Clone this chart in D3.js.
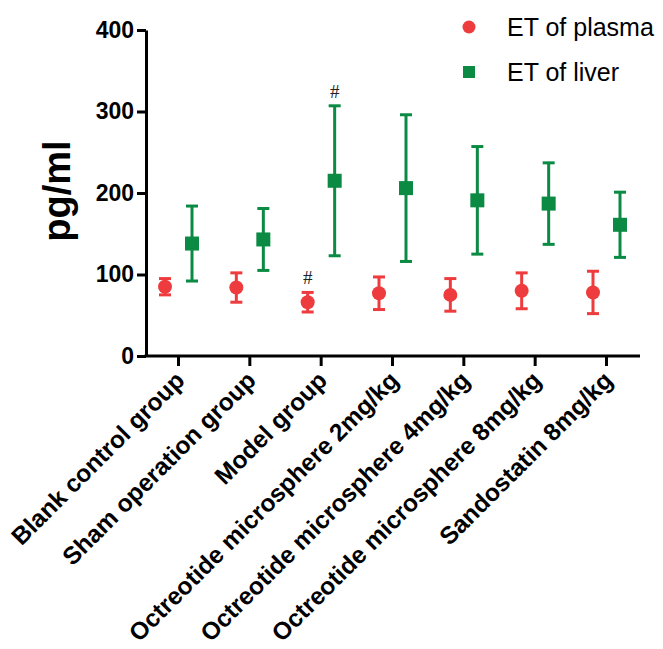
<!DOCTYPE html>
<html>
<head>
<meta charset="utf-8">
<script src="https://cdn.jsdelivr.net/npm/d3@7"></script>
<style>
  body { margin: 0; background: #fff; }
  svg { display: block; }
</style>
</head>
<body>
<div id="chart"></div>
<script>
// Data
var groups          =   [
    'Blank control group', 'Sham operation group', 'Model group',
    'Octreotide microsphere 2mg/kg', 'Octreotide microsphere 4mg/kg',
    'Octreotide microsphere 8mg/kg', 'Sandostatin 8mg/kg'
];
var plasma_mean     =   [85, 84, 66, 77, 75, 80, 78];
var plasma_err      =   [10, 18, 12, 20, 20, 22, 26];
var liver_mean      =   [138, 143, 215, 206, 191, 187, 161];
var liver_err       =   [46, 38, 92, 90, 66, 50, 40];
var plasma_sig      =   ['', '', '#', '', '', '', ''];
var liver_sig       =   ['', '', '#', '', '', '', ''];
var y_ticks         =   [0, 100, 200, 300, 400];

var chart_width     =   663;
var chart_height    =   649;
var red             =   '#ee3b3d';
var green           =   '#0a8a42';
var offset          =   13;
var cap             =   6;

// Scales
var x_scale         =   d3.scalePoint()
    .domain( groups )
    .range( [178, 606] );

var y_scale         =   d3.scaleLinear()
    .domain( [0, 400] )
    .range( [356, 30] );

var svg             =   d3.select('#chart')
    .append('svg')
    .attr('width', chart_width)
    .attr('height', chart_height)
    .style('font-family', 'Liberation Sans, Arial, sans-serif');

// Y axis
var y_axis = svg.append('g')
    .attr('transform', 'translate(146,0)')
    .call( d3.axisLeft(y_scale).tickValues(y_ticks).tickSize(9).tickSizeOuter(0).tickPadding(3) );
y_axis.select('.domain').attr('stroke-width', 3).attr('stroke', '#000');
y_axis.selectAll('.tick line').attr('stroke-width', 3);
y_axis.selectAll('.tick text')
    .style('font-size', '23px')
    .style('font-weight', 'bold')
    .attr('fill', '#000');

svg.append('text')
    .attr('transform', 'translate(70,191) rotate(-90)')
    .attr('text-anchor', 'middle')
    .style('font-size', '38px')
    .style('font-weight', 'bold')
    .text('pg/ml');

// X axis
var x_axis = svg.append('g')
    .attr('transform', 'translate(0,356)')
    .call( d3.axisBottom(x_scale).tickSize(10).tickSizeOuter(0).tickFormat('') );
x_axis.select('.domain').remove();
x_axis.selectAll('.tick line').attr('stroke-width', 3);
x_axis.append('line')
    .attr('x1', 144.5).attr('x2', 640)
    .attr('stroke', '#000').attr('stroke-width', 3);

svg.append('g').selectAll('text')
    .data( groups )
    .enter()
    .append('text')
    .attr('transform', function(d) {
        return 'translate(' + (x_scale(d) + 8) + ',382) rotate(-45)';
    })
    .attr('text-anchor', 'end')
    .style('font-size', '24.5px')
    .style('font-weight', 'bold')
    .text(function(d) { return d; });

// Error bars + markers
function draw_series(means, errs, sigs, dx, color, shape) {
    var g = svg.append('g');
    var items = g.selectAll('g')
        .data( groups )
        .enter()
        .append('g')
        .attr('transform', function(d) { return 'translate(' + (x_scale(d) + dx) + ',0)'; });

    items.append('line')
        .attr('y1', function(d, i) { return y_scale(means[i] + errs[i]); })
        .attr('y2', function(d, i) { return y_scale(means[i] - errs[i]); })
        .attr('stroke', color).attr('stroke-width', 3);
    items.append('line')
        .attr('x1', -cap).attr('x2', cap)
        .attr('y1', function(d, i) { return y_scale(means[i] + errs[i]); })
        .attr('y2', function(d, i) { return y_scale(means[i] + errs[i]); })
        .attr('stroke', color).attr('stroke-width', 3);
    items.append('line')
        .attr('x1', -cap).attr('x2', cap)
        .attr('y1', function(d, i) { return y_scale(means[i] - errs[i]); })
        .attr('y2', function(d, i) { return y_scale(means[i] - errs[i]); })
        .attr('stroke', color).attr('stroke-width', 3);

    if (shape === 'circle') {
        items.append('circle')
            .attr('cy', function(d, i) { return y_scale(means[i]); })
            .attr('r', 7)
            .attr('fill', color);
    } else {
        items.append('rect')
            .attr('x', -7).attr('width', 14).attr('height', 14)
            .attr('y', function(d, i) { return y_scale(means[i]) - 7; })
            .attr('fill', color);
    }

    items.append('text')
        .attr('y', function(d, i) { return y_scale(means[i] + errs[i]) - 8; })
        .attr('text-anchor', 'middle')
        .style('font-family', 'Liberation Serif, Times New Roman, serif')
        .style('font-size', '19px')
        .attr('fill', '#222')
        .text(function(d, i) { return sigs[i]; });
}

draw_series(plasma_mean, plasma_err, plasma_sig, -offset, red, 'circle');
draw_series(liver_mean, liver_err, liver_sig, offset + 1, green, 'square');

// Legend
var legend = svg.append('g');
legend.append('circle')
    .attr('cx', 469).attr('cy', 27).attr('r', 6.5).attr('fill', red);
legend.append('rect')
    .attr('x', 463).attr('y', 66).attr('width', 12).attr('height', 12).attr('fill', green);
legend.append('text')
    .attr('x', 507).attr('y', 36)
    .style('font-size', '25px')
    .text('ET of plasma');
legend.append('text')
    .attr('x', 507).attr('y', 81)
    .style('font-size', '25px')
    .text('ET of liver');
</script>
</body>
</html>
